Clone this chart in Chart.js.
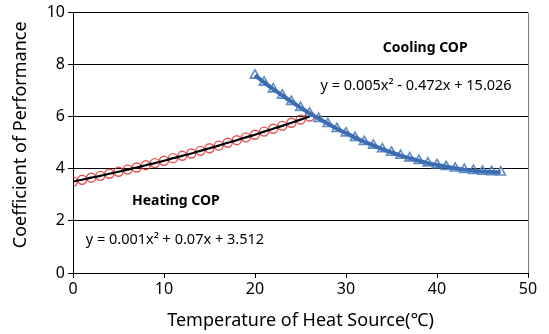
<!DOCTYPE html>
<html><head><meta charset="utf-8">
<script src="https://cdn.jsdelivr.net/npm/chart.js@4/dist/chart.umd.min.js"></script>
<style>html,body{margin:0;padding:0;background:#fff;}#wrap{width:549px;height:334px;}</style>
</head><body><div id="wrap"><canvas id="c" width="549" height="334"></canvas></div>
<script>
const heatingTemps = [0,1,2,3,4,5,6,7,8,9,10,11,12,13,14,15,16,17,18,19,20,21,22,23,24,25,26];
const heatingCOP = [3.51,3.58,3.66,3.73,3.81,3.89,3.97,4.05,4.14,4.22,4.31,4.41,4.50,4.59,4.69,4.79,4.89,5.00,5.10,5.21,5.31,5.43,5.54,5.65,5.77,5.89,6.01];
const coolingTemps = [20,21,22,23,24,25,26,27,28,29,30,31,32,33,34,35,36,37,38,39,40,41,42,43,44,45,46,47];
const coolingCOP = [7.59,7.32,7.06,6.82,6.58,6.35,6.13,5.93,5.73,5.54,5.37,5.20,5.04,4.90,4.76,4.63,4.51,4.41,4.31,4.22,4.15,4.08,4.02,3.97,3.93,3.90,3.88,3.87];
const xTicks = [0,10,20,30,40,50];
const yTicks = [0,2,4,6,8,10];
const xTitle = 'Temperature of Heat Source(℃)';
const yTitle = 'Coefficient of Performance';
const notes = [
  {text:'Cooling COP', x:38.7, y:8.65, bold:true, size:14},
  {text:'y = 0.005x² - 0.472x + 15.026', x:37.7, y:7.2, bold:false, size:14.5},
  {text:'Heating COP', x:11.3, y:2.75, bold:true, size:14},
  {text:'y = 0.001x² + 0.07x + 3.512', x:11.2, y:1.27, bold:false, size:14.5}
];
const FONT = '"Noto Sans", "DejaVu Sans", sans-serif';
const pts = (xs, ys) => xs.map((x,i)=>({x, y:ys[i]}));

const decor = {
  id:'decor',
  afterDatasetsDraw(chart){
    const {ctx, chartArea:a, scales:{x,y}} = chart;
    ctx.save();
    ctx.strokeStyle = '#7f7f7f'; ctx.lineWidth = 1;
    ctx.beginPath(); ctx.moveTo(Math.round(a.right)+0.5, a.top); ctx.lineTo(Math.round(a.right)+0.5, a.bottom); ctx.stroke();
    ctx.fillStyle = '#000'; ctx.textAlign='center'; ctx.textBaseline='middle';
    notes.forEach(n=>{
      ctx.font = (n.bold?'bold ':'') + n.size + 'px ' + FONT;
      ctx.fillText(n.text, x.getPixelForValue(n.x), y.getPixelForValue(n.y));
    });
    // y axis title
    ctx.translate(21, (a.top + a.bottom)/2 - 8);
    ctx.rotate(-Math.PI/2);
    ctx.font = '18px ' + FONT;
    ctx.fillText(yTitle, 0, 0);
    ctx.restore();
  }
};

new Chart(document.getElementById('c'), {
  type:'scatter',
  data:{datasets:[
    {label:'Heating trend', data:pts(heatingTemps, heatingCOP), showLine:true, borderColor:'#000', borderWidth:2.2, pointRadius:0, order:0, cubicInterpolationMode:'monotone'},
    {label:'Cooling trend', data:pts(coolingTemps, coolingCOP), showLine:true, borderColor:'#3c6db0', borderWidth:4, pointRadius:0, order:0, cubicInterpolationMode:'monotone'},
    {label:'Heating COP', data:pts(heatingTemps, heatingCOP), showLine:false, pointStyle:'circle', pointRadius:4.5, borderColor:'rgba(220,40,40,0.8)', backgroundColor:'rgba(0,0,0,0)', pointBorderWidth:1.4, order:1},
    {label:'Cooling COP', data:pts(coolingTemps, coolingCOP), showLine:false, pointStyle:'triangle', pointRadius:5.5, borderColor:'#5b8cc8', backgroundColor:'rgba(0,0,0,0)', pointBorderWidth:1.6, order:1}
  ]},
  options:{
    responsive:false, animation:false, devicePixelRatio:1,
    layout:{padding:{top:12, right:21, left:0, bottom:0}},
    plugins:{legend:{display:false}, tooltip:{enabled:false}},
    scales:{
      x:{type:'linear', min:0, max:50, afterBuildTicks:s=>{s.ticks = xTicks.map(v=>({value:v}));},
        grid:{display:true, drawOnChartArea:false, drawTicks:true, tickLength:5, color:'#000'},
        border:{display:true, color:'#000', width:1},
        ticks:{color:'#000', font:{family:FONT, size:16}, padding:2, maxRotation:0},
        title:{display:true, text:xTitle, color:'#000', font:{family:FONT, size:18}, padding:{top:0,bottom:2}},
        afterFit:s=>{s.height = 61;}
      },
      y:{type:'linear', min:0, max:10, afterBuildTicks:s=>{s.ticks = yTicks.map(v=>({value:v}));},
        grid:{display:true, drawOnChartArea:true, drawTicks:true, tickLength:5, color:(c)=>c.type==='tick'?'#000':'#868686'},
        border:{display:true, color:'#000', width:1},
        ticks:{color:'#000', font:{family:FONT, size:16}, padding:3},
        title:{display:false},
        afterFit:s=>{s.width = 73;}
      }
    }
  },
  plugins:[decor]
});
</script></body></html>
